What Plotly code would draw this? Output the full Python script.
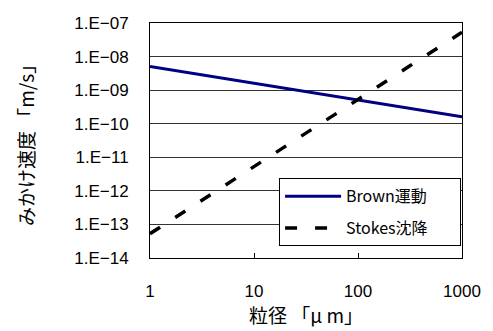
import plotly.graph_objects as go

x_vals = [1, 2, 3, 4, 5, 6, 7, 8, 9, 10, 20, 30, 40, 50, 60, 70, 80, 90, 100,
          200, 300, 400, 500, 600, 700, 800, 900, 1000]
brown = [5.1e-9, 3.6e-9, 2.95e-9, 2.55e-9, 2.3e-9, 2.1e-9, 1.93e-9, 1.8e-9, 1.7e-9, 1.6e-9,
         1.15e-9, 9.3e-10, 8.0e-10, 7.2e-10, 6.6e-10, 6.1e-10, 5.7e-10, 5.4e-10, 5.1e-10,
         3.6e-10, 2.95e-10, 2.55e-10, 2.28e-10, 2.08e-10, 1.93e-10, 1.8e-10, 1.7e-10, 1.6e-10]
stokes = [5.3e-14, 2.1e-13, 4.8e-13, 8.5e-13, 1.33e-12, 1.9e-12, 2.6e-12, 3.4e-12, 4.3e-12, 5.3e-12,
          2.1e-11, 4.8e-11, 8.5e-11, 1.33e-10, 1.9e-10, 2.6e-10, 3.4e-10, 4.3e-10, 5.3e-10,
          2.1e-9, 4.8e-9, 8.5e-9, 1.33e-8, 1.9e-8, 2.6e-8, 3.4e-8, 4.3e-8, 5.3e-8]

y_tickvals = [1e-14, 1e-13, 1e-12, 1e-11, 1e-10, 1e-9, 1e-8, 1e-7]
y_ticktext = ["1.E\u221214", "1.E\u221213", "1.E\u221212", "1.E\u221211",
              "1.E\u221210", "1.E\u221209", "1.E\u221208", "1.E\u221207"]
x_tickvals = [1, 10, 100, 1000]
x_ticktext = ["1", "10", "100", "1000"]

num_font = "Liberation Sans, Arial, sans-serif"
jp_font = "Noto Sans CJK JP, sans-serif"
pad = "\u3000\u2002\u2009"

fig = go.Figure()
fig.add_trace(go.Scatter(x=x_vals, y=brown, mode="lines", name="Brown運動" + pad,
                         legendgroup="a",
                         line=dict(color="#000080", width=3)))
fig.add_trace(go.Scatter(x=x_vals, y=stokes, mode="lines", name="Stokes沈降" + pad,
                         legendgroup="b",
                         line=dict(color="#000000", width=3.5, dash="12px,18px")))

fig.update_layout(
    width=493, height=331,
    margin=dict(l=150, r=24, t=23, b=73),
    paper_bgcolor="white", plot_bgcolor="white",
    showlegend=True,
    legend=dict(x=0.997, y=0.339, xanchor="right", yanchor="top",
                bordercolor="black", borderwidth=1, bgcolor="white",
                font=dict(family=jp_font, size=16, color="black"),
                itemwidth=56, tracegroupgap=8),
    xaxis=dict(type="log", range=[0, 3], tickvals=x_tickvals, ticktext=x_ticktext,
               ticks="inside", ticklen=5, tickcolor="black",
               showline=True, linecolor="black", linewidth=1, mirror=True,
               showgrid=False, zeroline=False,
               tickfont=dict(family=num_font, size=17, color="black"),
               ticklabelstandoff=18,
               title=dict(text="粒径 「μ m」", font=dict(family=jp_font, size=19, color="black"),
                          standoff=2)),
    yaxis=dict(type="log", range=[-14, -7], tickvals=y_tickvals, ticktext=y_ticktext,
               ticks="", showline=True, linecolor="black", linewidth=1, mirror=True,
               showgrid=True, gridcolor="#333333", gridwidth=1, zeroline=False,
               tickfont=dict(family=num_font, size=17, color="black"),
               ticklabelstandoff=17,
               title=dict(text="みかけ速度 「m/s」", font=dict(family=jp_font, size=19, color="black"),
                          standoff=34)),
)

fig.write_html("out.html")
